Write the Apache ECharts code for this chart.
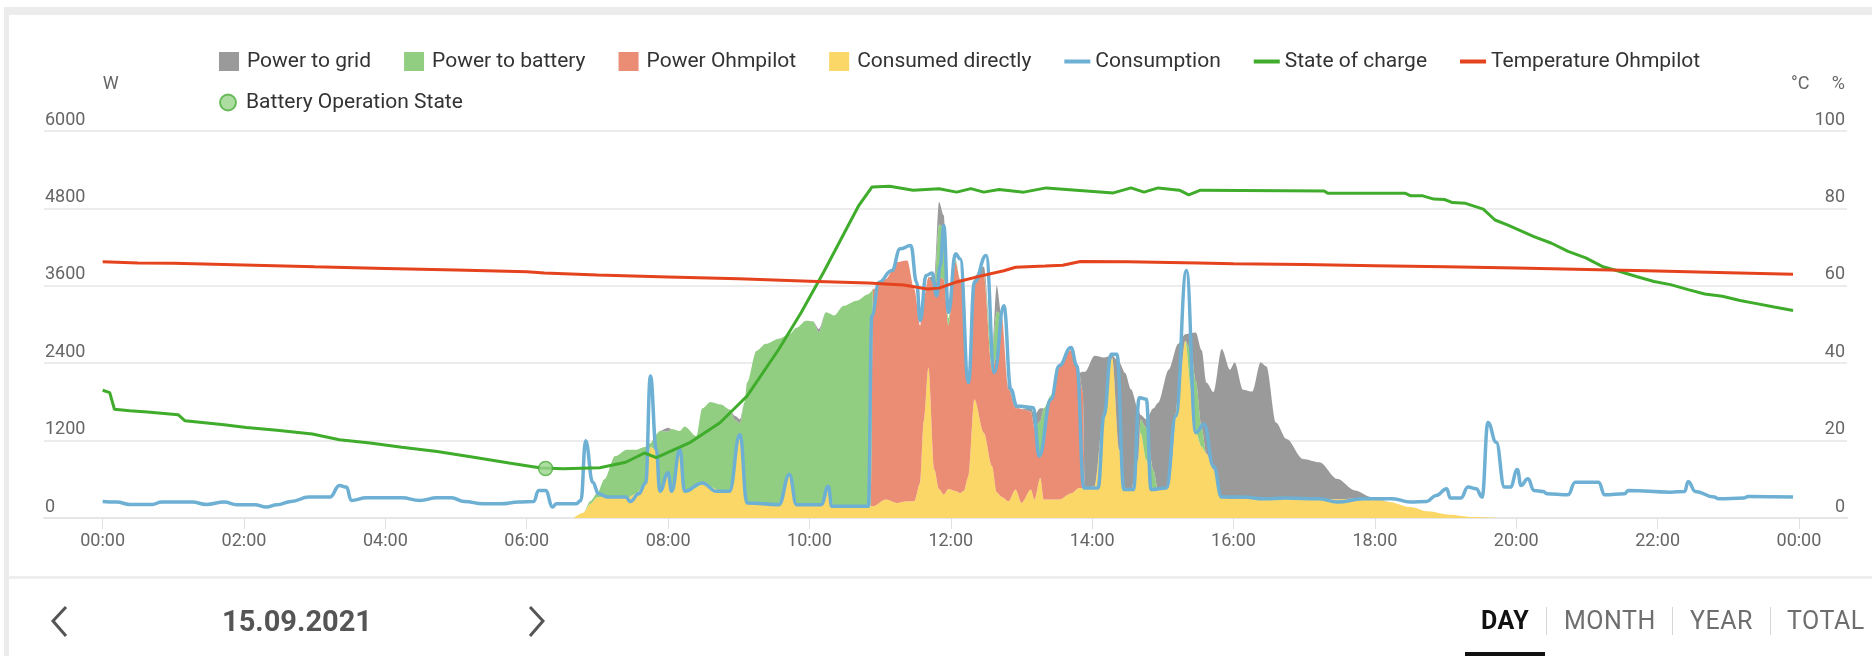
<!DOCTYPE html>
<html>
<head>
<meta charset="utf-8">
<script src="https://cdn.jsdelivr.net/npm/echarts@6/dist/echarts.min.js"></script>
<style>
	body { margin: 0; background: #fff; font-family: Roboto, sans-serif; }
	#page { position: relative; width: 1872px; height: 656px; overflow: hidden; }
	.frame { position: absolute; background: #ebeceb; }
	#chart { position: absolute; left: 0; top: 0; width: 1872px; height: 656px; }
	.nav { position: absolute; line-height: 30px; white-space: nowrap; }
	.tab { position: absolute; top: 605px; font-size: 25px; line-height: 32px; color: #6e6e6e; letter-spacing: 0.5px; }
	.sep { position: absolute; top: 607px; width: 1px; height: 28px; background: #d6d6d6; }
</style>
</head>
<body>
<div id="page">
	<div class="frame" style="left:4px;top:7px;width:1868px;height:8px"></div>
	<div class="frame" style="left:4px;top:7px;width:5px;height:649px"></div>
	<div class="frame" style="left:9px;top:576px;width:1863px;height:3px;background:#eeeeee"></div>
	<div id="chart"></div>
	<svg style="position:absolute;left:0;top:0" width="1872" height="656">
		<polyline points="66,607 53,621 66,636" fill="none" stroke="#555" stroke-width="3"/>
		<polyline points="530,607 543,621 530,636" fill="none" stroke="#555" stroke-width="3"/>
	</svg>
	<div class="nav" style="left:222px;top:606px;font-size:29px;font-weight:bold;color:#555">15.09.2021</div>
	<div class="tab" style="left:1481px;color:#111;font-weight:bold">DAY</div>
	<div class="sep" style="left:1546px"></div>
	<div class="tab" style="left:1564px">MONTH</div>
	<div class="sep" style="left:1672px"></div>
	<div class="tab" style="left:1690px">YEAR</div>
	<div class="sep" style="left:1770px"></div>
	<div class="tab" style="left:1787px">TOTAL</div>
	<div style="position:absolute;left:1465px;top:652px;width:80px;height:4px;background:#111"></div>
</div>
<script>
// stacked production, W (same time grid for all four)
const stackTimes = ['06:40', '06:48', '06:54', '07:00', '07:06', '07:15', '07:25', '07:33', '07:40', '07:45',
	'07:50', '07:53', '08:00', '08:03', '08:10', '08:14', '08:24', '08:29', '08:36', '08:45',
	'08:52', '08:57', '09:01', '09:05', '09:07', '09:15', '09:23', '09:34', '09:43', '09:49',
	'09:57', '10:03', '10:08', '10:14', '10:16', '10:21', '10:29', '10:40', '10:50', '10:52',
	'10:54', '11:05', '11:14', '11:23', '11:29', '11:34', '11:37', '11:41', '11:46', '11:50',
	'11:54', '11:58', '12:04', '12:08', '12:11', '12:15', '12:20', '12:28', '12:35', '12:39',
	'12:43', '12:49', '12:55', '13:00', '13:08', '13:11', '13:16', '13:19', '13:25', '13:32',
	'13:42', '13:49', '13:52', '13:54', '14:02', '14:10', '14:17', '14:23', '14:28', '14:33',
	'14:39', '14:41', '14:46', '14:52', '14:56', '15:05', '15:13', '15:19', '15:24', '15:28',
	'15:33', '15:37', '15:43', '15:50', '15:57', '16:01', '16:08', '16:16', '16:23', '16:28',
	'16:36', '16:45', '16:59', '17:13', '17:28', '17:43', '17:57', '18:12', '18:30', '18:45',
	'19:03', '19:24', '19:45']
const consumedDirectly = [0, 80, 220, 320, 330, 320, 310, 380, 540, 1100,
	1050, 415, 700, 415, 1060, 415, 470, 544, 480, 415,
	415, 900, 1296, 600, 233, 220, 210, 207, 674, 207,
	207, 207, 207, 300, 480, 181, 181, 181, 181, 181,
	181, 285, 233, 259, 259, 544, 1500, 2333, 752, 450,
	363, 450, 420, 389, 420, 648, 1840, 1322, 803, 400,
	330, 259, 441, 233, 441, 285, 622, 285, 285, 285,
	380, 467, 467, 467, 492, 1633, 2488, 1063, 441, 441,
	900, 1322, 900, 441, 441, 467, 1840, 2747, 2000, 1322,
	1100, 1000, 752, 311, 300, 300, 300, 300, 300, 300,
	300, 300, 300, 300, 290, 300, 298, 250, 170, 103,
	51, 15, 0]
const powerOhmpilot = [0, 0, 0, 0, 0, 0, 0, 0, 0, 0,
	0, 0, 0, 0, 0, 0, 0, 0, 0, 0,
	0, 0, 0, 0, 0, 0, 0, 0, 0, 0,
	0, 0, 0, 0, 0, 0, 0, 0, 0, 0,
	3370, 3422, 3733, 3733, 3292, 2437, 1900, 1400, 2848, 3300,
	3337, 2531, 3546, 3311, 3130, 1451, 1860, 2436, 1500, 2100,
	2820, 1737, 1259, 1457, 1209, 1115, 337, 1015, 1555, 2095,
	2220, 1783, 1500, 0, 0, 0, 0, 0, 0, 0,
	0, 0, 0, 0, 0, 0, 0, 0, 0, 0,
	0, 0, 0, 0, 0, 0, 0, 0, 0, 0,
	0, 0, 0, 0, 0, 0, 0, 0, 0, 0,
	0, 0, 0]
const powerToBattery = [0, 0, 40, 70, 270, 640, 750, 680, 560, 60,
	250, 935, 640, 965, 290, 1005, 800, 1156, 1320, 1345,
	1270, 620, 174, 1200, 1867, 2370, 2490, 2573, 2176, 2743,
	2853, 2843, 2673, 2890, 2700, 2959, 3109, 3189, 3289, 3320,
	0, 0, 0, 0, 0, 0, 0, 0, 0, 800,
	800, 119, 34, 0, 50, 50, 50, 0, 300, 700,
	0, 0, 0, 0, 0, 0, 541, 400, 60, 0,
	0, 0, 0, 0, 0, 0, 0, 0, 0, 0,
	0, 200, 500, 300, 0, 0, 0, 0, 600, 800,
	300, 0, 0, 0, 0, 0, 0, 0, 0, 0,
	0, 0, 0, 0, 0, 0, 0, 0, 0, 0,
	0, 0, 0]
const powerToGrid = [0, 0, 0, 0, 0, 0, 0, 0, 0, 0,
	0, 0, 60, 0, 0, 0, 0, 0, 0, 0,
	0, 60, 60, 0, 0, 0, 0, 0, 0, 0,
	0, 0, 50, 0, 0, 0, 0, 0, 0, 0,
	0, 0, 0, 0, 0, 0, 0, 0, 150, 350,
	192, 0, 0, 0, 0, 0, 0, 140, 0, 400,
	0, 54, 50, 0, 50, 200, 200, 0, 0, 0,
	0, 0, 300, 1800, 2022, 855, 32, 1348, 1809, 1555,
	800, 78, 129, 959, 1347, 1833, 860, 103, 270, 755,
	1200, 1100, 1198, 2309, 2000, 2110, 1690, 1660, 2110, 2050,
	1180, 925, 616, 565, 317, 127, 26, 0, 0, 0,
	0, 0, 0]

// consumption, W
const consumptionTimes = ['00:00', '00:12', '00:23', '00:42', '00:50', '01:16', '01:28', '01:43', '01:54', '02:09',
	'02:19', '02:28', '02:40', '02:55', '03:13', '03:21', '03:27', '03:31', '03:44', '04:14',
	'04:29', '04:44', '04:56', '05:07', '05:23', '05:38', '05:53', '06:06', '06:10', '06:16',
	'06:22', '06:25', '06:42', '06:46', '06:50', '06:56', '07:01', '07:09', '07:24', '07:28',
	'07:35', '07:41', '07:45', '07:50', '07:53', '08:00', '08:03', '08:10', '08:14', '08:29',
	'08:41', '08:52', '09:01', '09:07', '09:34', '09:43', '09:49', '10:10', '10:16', '10:19',
	'10:50', '10:53', '10:59', '11:10', '11:17', '11:26', '11:31', '11:34', '11:39', '11:44',
	'11:48', '11:51', '11:54', '11:58', '12:04', '12:08', '12:15', '12:20', '12:30', '12:37',
	'12:45', '12:51', '12:56', '13:10', '13:15', '13:25', '13:32', '13:42', '13:47', '13:53',
	'14:05', '14:10', '14:16', '14:21', '14:27', '14:35', '14:40', '14:46', '14:50', '15:03',
	'15:11', '15:20', '15:28', '15:35', '15:43', '15:50', '16:08', '16:26', '16:44', '17:13',
	'17:28', '17:50', '18:15', '18:30', '18:44', '18:52', '19:01', '19:04', '19:13', '19:19',
	'19:26', '19:31', '19:36', '19:43', '19:50', '19:55', '20:01', '20:04', '20:10', '20:15',
	'20:23', '20:26', '20:44', '20:50', '21:10', '21:15', '21:32', '21:35', '22:11', '22:23',
	'22:26', '22:32', '22:48', '22:52', '23:13', '23:17', '23:55']
const consumption = [257, 247, 211, 211, 247, 247, 211, 247, 206, 206,
	170, 206, 257, 324, 324, 504, 479, 273, 314, 314,
	273, 314, 314, 257, 221, 221, 247, 257, 427, 427,
	170, 221, 221, 273, 1199, 556, 376, 324, 324, 257,
	376, 544, 2203, 1063, 415, 700, 415, 1063, 415, 544,
	415, 415, 1296, 233, 207, 674, 207, 207, 492, 181,
	181, 3136, 3655, 3836, 4173, 4225, 3655, 3059, 3758, 3800,
	3447, 3914, 4536, 3188, 4095, 4017, 2099, 3655, 4069, 2255,
	3292, 1996, 1737, 1711, 959, 1840, 2359, 2644, 2359, 467,
	467, 1581, 2540, 2540, 441, 441, 1866, 1840, 441, 467,
	1581, 3836, 1322, 1452, 804, 324, 324, 298, 309, 298,
	247, 298, 298, 247, 257, 350, 453, 309, 309, 479,
	453, 324, 1482, 1173, 479, 479, 751, 504, 607, 427,
	412, 376, 360, 556, 556, 360, 376, 427, 401, 412,
	566, 412, 324, 298, 309, 334, 324]

// state of charge, %
const socTimes = ['00:00', '00:06', '00:10', '00:23', '00:38', '01:04', '01:10', '01:43', '02:02', '02:28',
	'02:58', '03:21', '03:47', '04:14', '04:44', '05:15', '05:45', '06:12', '06:31', '07:02',
	'07:24', '07:40', '07:50', '08:18', '08:44', '09:00', '09:07', '09:34', '09:53', '10:12',
	'10:30', '10:42', '10:53', '11:08', '11:28', '11:50', '12:05', '12:17', '12:28', '12:41',
	'13:02', '13:21', '14:18', '14:33', '14:44', '14:56', '15:14', '15:22', '15:32', '17:17',
	'17:20', '18:26', '18:30', '18:40', '18:50', '18:59', '19:06', '19:17', '19:32', '19:42',
	'19:53', '20:04', '20:15', '20:30', '20:44', '20:59', '21:13', '21:28', '21:42', '21:57',
	'22:11', '22:26', '22:40', '22:55', '23:10', '23:24', '23:39', '23:55']
const soc = [33.0, 32.4, 28.1, 27.7, 27.4, 26.7, 25.1, 24.1, 23.4, 22.7,
	21.7, 20.2, 19.4, 18.3, 17.2, 15.7, 14.2, 12.9, 12.7, 13.0,
	14.4, 16.8, 15.6, 19.4, 24.6, 29.4, 31.5, 43.6, 53.1, 63.5,
	73.9, 80.8, 85.5, 85.7, 84.7, 85.1, 84.2, 85.1, 84.2, 84.9,
	84.2, 85.3, 84.0, 85.3, 84.2, 85.3, 84.7, 83.5, 84.7, 84.5,
	83.9, 83.9, 83.3, 83.3, 82.4, 82.3, 81.5, 81.3, 79.8, 77.0,
	75.7, 74.2, 72.7, 71.0, 68.9, 67.2, 65.0, 63.7, 62.4, 61.1,
	60.3, 59.0, 57.9, 57.3, 56.2, 55.4, 54.5, 53.6]

// ohmpilot temperature, °C
const tempTimes = ['00:00', '00:30', '01:00', '02:00', '03:00', '04:00', '05:00', '06:00', '06:15', '07:00',
	'08:00', '09:00', '10:00', '10:50', '11:20', '11:40', '11:50', '12:05', '12:25', '12:45',
	'12:55', '13:20', '13:35', '13:50', '14:30', '15:30', '16:00', '17:00', '18:00', '19:00',
	'20:00', '21:00', '22:00', '23:00', '23:55']
const temperature = [66.2, 65.9, 65.8, 65.4, 64.9, 64.5, 64.1, 63.6, 63.3, 62.8,
	62.3, 61.8, 61.2, 60.7, 60.2, 59.2, 59.4, 61.0, 62.5, 63.9,
	64.8, 65.1, 65.3, 66.3, 66.2, 65.9, 65.7, 65.5, 65.2, 64.9,
	64.6, 64.2, 63.8, 63.4, 63.0]

// battery operation state marker
const batteryStateTimes = ['06:16']
const batteryState = [12.8]

const hourTicks = [0, 2, 4, 6, 8, 10, 12, 14, 16, 18, 20, 22, 24]

function toHours(t) {
	const p = t.split(':')
	return Number(p[0]) + Number(p[1]) / 60
}
// [hours, value]
function pairs(times, values) {
	return times.map((t, i) => [toHours(t), values[i]])
}
// [value, hours]: the value comes first so that the stack adds up y, not x
function valueFirst(times, values) {
	return times.map((t, i) => [values[i], toHours(t)])
}

const FONT = 'Roboto, sans-serif'
const square = 'path://M0,0H20V19H0Z'
const bar = 'path://M0,0H26V4H0Z'

function area(name, color, times, values) {
	return {
		name: name,
		type: 'line',
		stack: 'pv',
		color: color,
		data: valueFirst(times, values),
		encode: { x: 1, y: 0 },
		symbol: 'none',
		smooth: 0.3,
		smoothMonotone: 'x',
		lineStyle: { width: 0 },
		areaStyle: { color: color, opacity: 1 }
	}
}

const chart = echarts.init(document.getElementById('chart'))
chart.setOption({
	animation: false,
	textStyle: { fontFamily: FONT },
	legend: [{
		left: 214,
		top: 46,
		itemWidth: 26,
		itemHeight: 19,
		itemGap: 33,
		textStyle: { fontSize: 21, color: '#333', fontFamily: FONT },
		data: [
			{ name: 'Power to grid', icon: square },
			{ name: 'Power to battery', icon: square },
			{ name: 'Power Ohmpilot', icon: square },
			{ name: 'Consumed directly', icon: square },
			{ name: 'Consumption', icon: bar },
			{ name: 'State of charge', icon: bar },
			{ name: 'Temperature Ohmpilot', icon: bar }
		]
	}, {
		left: 214,
		top: 87,
		itemWidth: 26,
		itemHeight: 16,
		textStyle: { fontSize: 21, color: '#333', fontFamily: FONT },
		data: [{ name: 'Battery Operation State', icon: 'circle' }]
	}],
	grid: { left: 44, right: 25, top: 131, bottom: 138 },
	xAxis: {
		type: 'value',
		min: -0.83,
		max: 24.68,
		splitLine: { show: false },
		axisLine: { lineStyle: { color: '#e6e6e6', width: 2 } },
		axisTick: { show: true, customValues: hourTicks, length: 11, lineStyle: { color: '#e0e0e0', width: 1 } },
		axisLabel: {
			customValues: hourTicks,
			margin: 14,
			fontSize: 18,
			color: '#666',
			formatter: v => String(Math.round(v) % 24).padStart(2, '0') + ':00'
		}
	},
	yAxis: [{
		type: 'value',
		min: 0,
		max: 6000,
		interval: 1200,
		name: 'W',
		nameLocation: 'end',
		nameGap: 47,
		nameTextStyle: { fontSize: 18, color: '#666', align: 'left', verticalAlign: 'middle' },
		axisLine: { show: false },
		axisTick: { show: false },
		axisLabel: {
			inside: true, margin: 1, fontSize: 18, color: '#666',
			verticalAlign: 'bottom', padding: [0, 0, 2, 0],
			formatter: v => String(v)
		},
		splitLine: { lineStyle: { color: '#ececec', width: 2 } }
	}, {
		type: 'value',
		min: 0,
		max: 100,
		interval: 20,
		position: 'right',
		name: '°C     %',
		nameLocation: 'end',
		nameGap: 47,
		nameTextStyle: { fontSize: 18, color: '#666', align: 'right', verticalAlign: 'middle', padding: [0, 2, 0, 0] },
		axisLine: { show: false },
		axisTick: { show: false },
		axisLabel: { inside: true, margin: 2, fontSize: 18, color: '#666', verticalAlign: 'bottom', padding: [0, 0, 2, 0] },
		splitLine: { show: false }
	}],
	series: [
		area('Consumed directly', '#fad766', stackTimes, consumedDirectly),
		area('Power Ohmpilot', '#eb8c74', stackTimes, powerOhmpilot),
		area('Power to battery', '#91ce82', stackTimes, powerToBattery),
		area('Power to grid', '#9a9a9a', stackTimes, powerToGrid),
		{
			name: 'Consumption',
			type: 'line',
			color: '#6db0d4',
			data: pairs(consumptionTimes, consumption),
			symbol: 'none',
			smooth: 0.45,
			smoothMonotone: 'x',
			lineStyle: { width: 3.5 },
			z: 3
		},
		{
			name: 'State of charge',
			type: 'line',
			yAxisIndex: 1,
			color: '#3fac2b',
			data: pairs(socTimes, soc),
			symbol: 'none',
			lineStyle: { width: 3 },
			z: 4
		},
		{
			name: 'Temperature Ohmpilot',
			type: 'line',
			yAxisIndex: 1,
			color: '#e4431e',
			data: pairs(tempTimes, temperature),
			symbol: 'none',
			lineStyle: { width: 3 },
			z: 4
		},
		{
			name: 'Battery Operation State',
			type: 'scatter',
			yAxisIndex: 1,
			data: pairs(batteryStateTimes, batteryState),
			symbolSize: 14,
			itemStyle: { color: '#9ad48b', borderColor: '#4cae3d', borderWidth: 1.5 },
			z: 5
		}
	]
})
</script>
</body>
</html>
